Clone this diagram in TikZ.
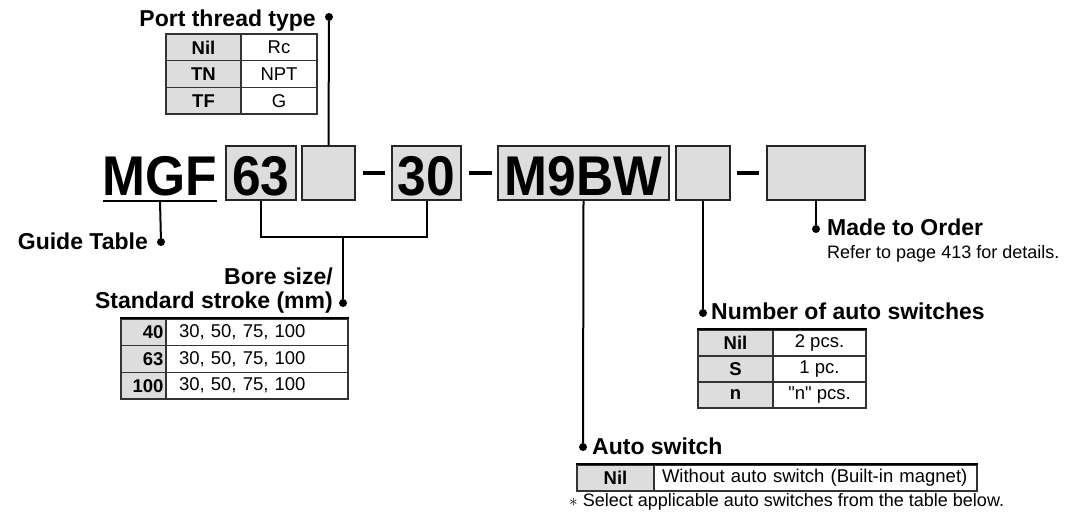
\documentclass[tikz,border=0pt]{standalone}
\usepackage{fontspec}
\setmainfont{Liberation Sans}[Ligatures=TeXOff]
\newfontfamily\codefont{Liberation Sans}[FakeStretch=0.92]
\usetikzlibrary{positioning}
\definecolor{boxgray}{RGB}{221,221,221}

\begin{document}
\begin{tikzpicture}[x=1pt,y=-1pt,
  codebox/.style={draw=black!85, fill=boxgray, line width=2.2pt, minimum height=54pt, inner sep=0pt,
    text height=44pt, text depth=0pt, font=\codefont\bfseries\fontsize{56}{56}\selectfont},
  bar/.style={fill=black, inner sep=0pt, minimum width=22pt, minimum height=3.6pt},
  dot/.style={shape=circle, fill=black, inner sep=0pt, minimum size=8pt},
  conn/.style={line width=2pt},
  lbl/.style={inner sep=0pt, font=\bfseries\fontsize{23}{24}\selectfont},
  note/.style={inner sep=0pt, font=\fontsize{18}{20}\selectfont},
  kcell/.style={draw=black!80, fill=boxgray, line width=1.2pt, inner sep=0pt, font=\bfseries\fontsize{18.5}{20}\selectfont},
  vcell/.style={draw=black!80, fill=white, line width=1.2pt, inner sep=0pt, font=\fontsize{18.5}{20}\selectfont}]

\useasboundingbox (0,0) rectangle (1076,517);

% model code
\path (160,195) node (mgf) [anchor=base, inner xsep=0pt, inner ysep=5pt, font=\codefont\bfseries\fontsize{56}{56}\selectfont] {MGF};
\draw [conn] (mgf.south west) -- (mgf.south east);
\path (261,173) node (b63) [codebox, minimum width=70pt] {63};
\path (328.5,173) node (bport) [codebox, minimum width=53pt] {};
\path (374,173) node (bar1) [bar] {};
\path (426.5,173) node (b30) [codebox, minimum width=69pt] {30};
\path (480.5,173) node (bar2) [bar, minimum width=23pt] {};
\path (583.5,173) node (bsw) [codebox, minimum width=171pt] {M9BW};
\path (703,173) node (bnum) [codebox, minimum width=54pt] {};
\path (748,173) node (bar3) [bar] {};
\path (816,173) node (bmade) [codebox, minimum width=98pt] {};

% port thread type
\path (329,17) node (dport) [dot] {};
\path (316,26) node (lport) [lbl, anchor=base east] {Port thread type};
\path (203.5,47.3) node (pk1) [kcell, minimum width=75pt, minimum height=26.7pt] {Nil};
\path (279,47.3) node (pv1) [vcell, minimum width=76pt, minimum height=26.7pt] {Rc};
\path (203.5,74) node (pk2) [kcell, minimum width=75pt, minimum height=26.7pt] {TN};
\path (279,74) node (pv2) [vcell, minimum width=76pt, minimum height=26.7pt] {NPT};
\path (203.5,100.7) node (pk3) [kcell, minimum width=75pt, minimum height=26.7pt] {TF};
\path (279,100.7) node (pv3) [vcell, minimum width=76pt, minimum height=26.7pt] {G};
\draw [conn] (dport) -- (bport.north);

% guide table
\path (161,242) node (dguide) [dot] {};
\path (148,249) node (lguide) [lbl, anchor=base east] {Guide Table};
\draw [conn] (mgf.south) -- (dguide);

% bore size / stroke
\coordinate (brk) at (343,237);
\path (343,303) node (dbore) [dot] {};
\path (333,308) node (lbore) [lbl, anchor=base east, align=right] {Bore size/\\Standard stroke (mm)};
\draw [conn] (b63.south) |- (brk) -| (b30.south);
\draw [conn] (brk) -- (dbore);
\path (143.5,332.3) node (bk1) [kcell, minimum width=45pt, minimum height=26.7pt, text width=40pt, align=right] {40};
\path (257,332.3) node (bv1) [vcell, minimum width=182pt, minimum height=26.7pt, text width=156pt, align=left] {30, 50, 75, 100};
\path (143.5,359) node (bk2) [kcell, minimum width=45pt, minimum height=26.7pt, text width=40pt, align=right] {63};
\path (257,359) node (bv2) [vcell, minimum width=182pt, minimum height=26.7pt, text width=156pt, align=left] {30, 50, 75, 100};
\path (143.5,385.7) node (bk3) [kcell, minimum width=45pt, minimum height=26.7pt, text width=40pt, align=right] {100};
\path (257,385.7) node (bv3) [vcell, minimum width=182pt, minimum height=26.7pt, text width=156pt, align=left] {30, 50, 75, 100};
\draw [line width=2pt] (bk1.north west) -- (bv1.north east);

% made to order
\path (816,229) node (dmade) [dot] {};
\path (827,235) node (lmade) [lbl, anchor=base west] {Made to Order};
\path (827,258) node (nmade) [note, anchor=base west] {Refer to page 413 for details.};
\draw [conn] (bmade.south) -- (dmade);

% number of auto switches
\path (703,313) node (dnum) [dot] {};
\path (711,319) node (lnum) [lbl, anchor=base west] {Number of auto switches};
\path (735.5,343) node (nk1) [kcell, minimum width=75pt, minimum height=26pt] {Nil};
\path (819.5,343) node (nv1) [vcell, minimum width=93pt, minimum height=26pt] {2 pcs.};
\path (735.5,369) node (nk2) [kcell, minimum width=75pt, minimum height=26pt] {S};
\path (819.5,369) node (nv2) [vcell, minimum width=93pt, minimum height=26pt] {1 pc.};
\path (735.5,395) node (nk3) [kcell, minimum width=75pt, minimum height=26pt] {n};
\path (819.5,395) node (nv3) [vcell, minimum width=93pt, minimum height=26pt] {"n" pcs.};
\draw [line width=2pt] (nk1.north west) -- (nv1.north east);
\draw [conn] (bnum.south) -- (dnum);

% auto switch
\path (583,447) node (dsw) [dot] {};
\path (592,454) node (lsw) [lbl, anchor=base west] {Auto switch};
\path (615.5,478) node (ak1) [kcell, minimum width=77pt, minimum height=26pt] {Nil};
\path (815.5,478) node (av1) [vcell, minimum width=323pt, minimum height=26pt, text width=307pt, align=left] {Without auto switch (Built-in magnet)};
\draw [line width=2pt] (ak1.north west) -- (av1.north east);
\path (569,506) node (nsw) [note, anchor=base west] {$\ast$ Select applicable auto switches from the table below.};
\draw [conn] (bsw.south) -- (dsw);

\end{tikzpicture}
\end{document}
